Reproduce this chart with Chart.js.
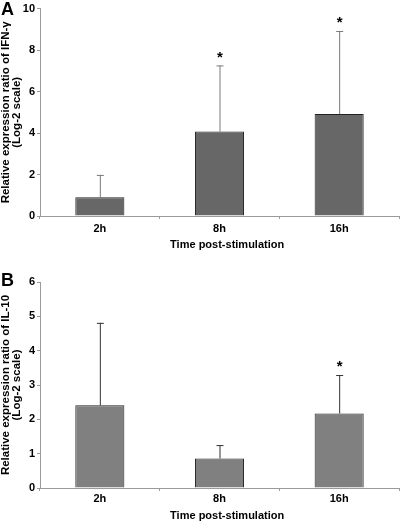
<!DOCTYPE html>
<html>
<head>
<meta charset="utf-8">
<script src="https://cdn.jsdelivr.net/npm/chart.js@4/dist/chart.umd.min.js"></script>
<style>
  body { margin: 0; background: #fff; font-family: "Liberation Sans", Arial, sans-serif; }
  #wrap { position: relative; width: 400px; height: 523px; }
  canvas { position: absolute; left: 0; }
  .panel { position: absolute; left: 1px; font-weight: bold; font-size: 18px; line-height: 18px; }
</style>
</head>
<body>
<div id="wrap">
  <canvas id="chartA" width="400" height="260" style="top:0"></canvas>
  <canvas id="chartB" width="400" height="263" style="top:260px"></canvas>
  <div class="panel" style="top:0px">A</div>
  <div class="panel" style="top:271px">B</div>
</div>
<script>
// time points
const categories = ["2h", "8h", "16h"];
// IFN-gamma (panel A)
const ifngMeans = [0.9, 4.07, 4.92];
const ifngErrors = [1.08, 3.19, 4.0];
const ifngStars = [false, true, true];
// IL-10 (panel B)
const il10Means = [2.41, 0.86, 2.17];
const il10Errors = [2.4, 0.39, 1.12];
const il10Stars = [false, false, true];

const axisGray = "#9a9a9a";

// draws upper error bars and significance stars from the scales
const errorBars = {
  id: "errorBars",
  afterDatasetsDraw(chart, args, opts) {
    const ctx = chart.ctx;
    const meta = chart.getDatasetMeta(0);
    const y = chart.scales.y;
    ctx.save();
    meta.data.forEach((bar, i) => {
      const v = opts.means[i];
      const top = y.getPixelForValue(v + opts.errors[i]);
      const base = y.getPixelForValue(v);
      ctx.strokeStyle = opts.color;
      ctx.lineWidth = 1;
      ctx.beginPath();
      ctx.moveTo(bar.x + 0.5, base);
      ctx.lineTo(bar.x + 0.5, top);
      ctx.moveTo(bar.x - 3, top + 0.5);
      ctx.lineTo(bar.x + 4, top + 0.5);
      ctx.stroke();
      if (opts.stars[i]) {
        ctx.fillStyle = "#000";
        ctx.font = "bold 15px 'Liberation Sans', Arial";
        ctx.textAlign = "center";
        ctx.textBaseline = "middle";
        ctx.fillText("*", bar.x + 0.5, top - 8);
      }
    });
    ctx.restore();
  }
};

function makeChart(id, means, errors, stars, opt) {
  const ctx = document.getElementById(id).getContext("2d");
  return new Chart(ctx, {
    type: "bar",
    data: {
      labels: categories,
      datasets: [{
        data: means,
        backgroundColor: opt.fill,
        borderColor: "#222",
        borderWidth: 1,
        borderSkipped: "bottom",
        barPercentage: 0.41,
        categoryPercentage: 1
      }]
    },
    options: {
      responsive: false,
      animation: false,
      events: [],
      layout: { padding: { top: opt.top, right: 1, left: 0, bottom: 0 } },
      plugins: {
        legend: { display: false },
        tooltip: { enabled: false },
        errorBars: { means: means, errors: errors, stars: stars, color: opt.errColor }
      },
      scales: {
        x: {
          afterFit: (s) => { s.height = opt.xHeight; },
          grid: { offset: true, drawOnChartArea: false, tickLength: 3, color: axisGray },
          border: { color: axisGray },
          ticks: { padding: opt.tickPad, color: "#000", font: { family: "Liberation Sans", size: 11, weight: "bold" } },
          title: {
            display: true,
            // leading spaces nudge the centred title right, as in the original
            text: "     Time post-stimulation",
            color: "#000",
            padding: { top: 0, bottom: opt.titlePad },
            font: { family: "Liberation Sans", size: 11, weight: "bold" }
          }
        },
        y: {
          min: 0,
          max: opt.max,
          afterFit: (s) => { s.width = 40; },
          grid: { drawOnChartArea: false, tickLength: 3, color: axisGray },
          border: { color: axisGray },
          ticks: { stepSize: opt.step, padding: 2, color: "#000", font: { family: "Liberation Sans", size: 11, weight: "bold" } },
          title: {
            display: true,
            text: opt.yTitle,
            color: "#000",
            padding: { top: 0, bottom: 0 },
            font: { family: "Liberation Sans", size: 11.5, weight: "bold", lineHeight: 0.95 }
          }
        }
      }
    },
    plugins: [errorBars]
  });
}

makeChart("chartA", ifngMeans, ifngErrors, ifngStars, {
  fill: "#676767", errColor: "#7a7a7a", top: 8, xHeight: 44, tickPad: 3, titlePad: 8,
  max: 10, step: 2, yTitle: ["Relative expression ratio of IFN-\u03b3", "(Log-2 scale)"]
});
makeChart("chartB", il10Means, il10Errors, il10Stars, {
  fill: "#808080", errColor: "#333", top: 22, xHeight: 35, tickPad: 1, titlePad: 0,
  max: 6, step: 1, yTitle: ["Relative expression ratio of IL-10", "(Log-2 scale)"]
});
</script>
</body>
</html>
